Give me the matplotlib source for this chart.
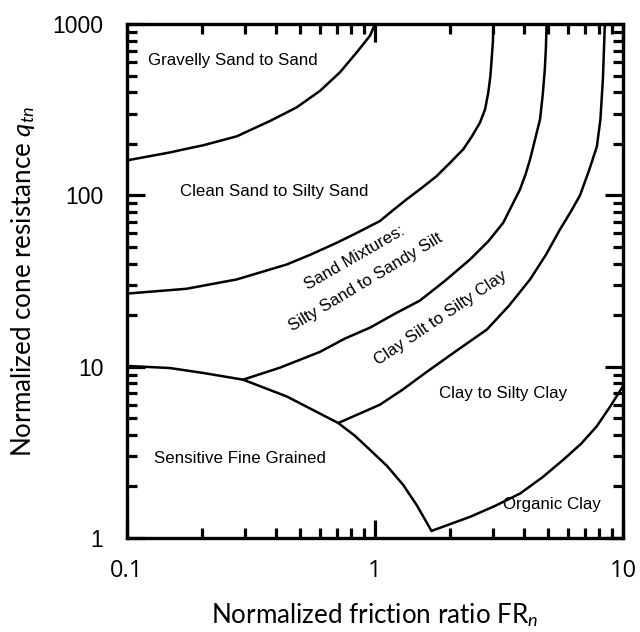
import matplotlib
matplotlib.use("Agg")
import matplotlib.pyplot as plt
from matplotlib.ticker import LogLocator, NullFormatter

# zone boundaries (FR_n in %, q_tn)
bound1_fr = [0.1, 0.149, 0.171, 0.203, 0.277, 0.378, 0.483, 0.600, 0.722, 0.844, 0.955, 1.0]
bound1_q = [160, 178, 186, 196, 221, 272, 326, 407, 522, 683, 855, 1000]

bound2_fr = [0.1, 0.174, 0.277, 0.441, 0.552, 0.702, 0.853, 1.047, 1.18, 1.342, 1.55, 1.774,
             2.00, 2.27, 2.46, 2.651, 2.78, 2.864, 2.92, 2.955, 2.99, 3.0]
bound2_q = [26.7, 28.5, 32.3, 39.5, 45.2, 52.9, 60.8, 70.8, 81.7, 94.8, 111, 129.6,
            154, 185.8, 221, 266, 318, 399, 497, 624, 796, 1000]

bound3_fr = [0.294, 0.414, 0.600, 0.757, 0.955, 1.205, 1.517, 1.92, 2.415, 2.86, 3.29, 3.84,
             4.05, 4.22, 4.42, 4.63, 4.75, 4.84, 4.89, 4.92]
bound3_q = [8.40, 9.87, 12.2, 14.6, 16.9, 20.4, 24.3, 31.8, 42.2, 53.8, 69.2, 108,
            133, 162, 212, 278, 390, 545, 733, 1000]

bound4_fr = [0.711, 1.047, 1.29, 1.60, 2.10, 2.83, 3.47, 4.22, 4.90, 5.57, 6.17, 6.71, 7.30,
             7.85, 8.11, 8.30, 8.41, 8.45]
bound4_q = [4.69, 6.0, 7.33, 9.22, 12.2, 16.5, 22.7, 32.3, 45.2, 63.2, 80.6, 100, 140,
            193, 278, 477, 817, 1000]

sensitive_fr = [0.1, 0.149, 0.203, 0.294, 0.441, 0.711, 0.830, 0.955, 1.117, 1.30, 1.476, 1.69]
sensitive_q = [10.1, 9.82, 9.19, 8.40, 6.70, 4.69, 3.95, 3.27, 2.64, 2.04, 1.55, 1.10]

organic_fr = [1.69, 2.42, 3.05, 3.85, 4.75, 5.74, 6.78, 7.83, 8.87, 10.0]
organic_q = [1.10, 1.33, 1.54, 1.82, 2.27, 2.86, 3.55, 4.48, 5.84, 7.7]

# zone names: (text, FR_n, q_tn, rotation)
zone_labels = [
    ("Gravelly Sand to Sand", 0.267, 610, 0),
    ("Clean Sand to Silty Sand", 0.392, 106, 0),
    ("Sand Mixtures:", 0.830, 43.4, 30),
    ("Silty Sand to Sandy Silt", 0.921, 31.0, 31),
    ("Clay Silt to Silty Clay", 1.845, 19.1, 34),
    ("Clay to Silty Clay", 3.27, 7.02, 0),
    ("Sensitive Fine Grained", 0.286, 2.92, 0),
    ("Organic Clay", 5.16, 1.56, 0),
]

x_ticks = [0.1, 1, 10]
x_tick_labels = ["0.1", "1", "10"]
y_ticks = [1, 10, 100, 1000]
y_tick_labels = ["1", "10", "100", "1000"]

plt.rcParams['mathtext.fontset'] = 'custom'
plt.rcParams['mathtext.rm'] = 'Lato'
plt.rcParams['mathtext.it'] = 'Lato:italic'

fig = plt.figure(figsize=(6.4, 6.32), dpi=100)
ax = fig.add_axes([0.1984, 0.1487, 0.775, 0.8133])

lw = 1.8
for xs, ys in [(bound1_fr, bound1_q), (bound2_fr, bound2_q), (bound3_fr, bound3_q),
               (bound4_fr, bound4_q), (sensitive_fr, sensitive_q), (organic_fr, organic_q)]:
    ax.plot(xs, ys, color='black', linewidth=lw, solid_capstyle='round', solid_joinstyle='round')

for text, x, y, rot in zone_labels:
    ax.text(x, y, text, ha='center', va='center', rotation=rot,
            fontsize=12.2, family='Liberation Sans', rotation_mode='anchor')

ax.set_xscale('log')
ax.set_yscale('log')
ax.set_xlim(0.1, 10)
ax.set_ylim(1, 1000)

ax.set_xticks(x_ticks, labels=x_tick_labels)
ax.set_yticks(y_ticks, labels=y_tick_labels)
ax.xaxis.set_minor_locator(LogLocator(base=10, subs=range(2, 10)))
ax.yaxis.set_minor_locator(LogLocator(base=10, subs=range(2, 10)))
ax.xaxis.set_minor_formatter(NullFormatter())
ax.yaxis.set_minor_formatter(NullFormatter())

ax.tick_params(which='both', direction='in', top=True, right=True, width=2.3, color='black')
ax.tick_params(which='major', length=13)
ax.tick_params(which='minor', length=7)
ax.tick_params(axis='y', which='major', pad=17)
ax.tick_params(axis='x', which='major', pad=15)
for lab in ax.get_yticklabels():
    lab.set_family('Liberation Sans')
    lab.set_fontsize(16.5)
for lab in ax.get_xticklabels():
    lab.set_family('Open Sans')
    lab.set_fontsize(17)

for sp in ax.spines.values():
    sp.set_linewidth(2.4)

ax.set_xlabel(r"Normalized friction ratio FR$_{\mathit{n}}$", family='Lato', fontsize=18.7, labelpad=13)
ax.set_ylabel(r"Normalized cone resistance $\mathit{q}_{\mathit{tn}}$", family='Lato', fontsize=18.7, labelpad=11)

fig.savefig("out.png", dpi=100)
